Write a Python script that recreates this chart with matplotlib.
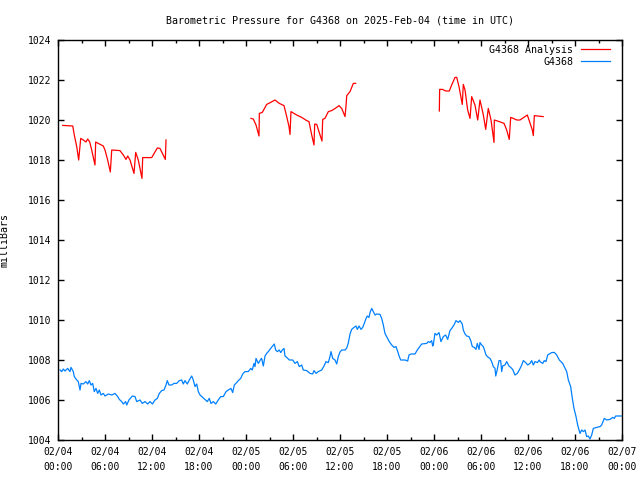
import math
import matplotlib
matplotlib.use("Agg")
from matplotlib import pyplot

NAN = float("nan")

# hours since 2025-02-04 00:00 UTC
analysis_hours = [
    0.6, 1.88, 2.08, 2.39, 2.64, 2.9, 3.23, 3.57, 3.79, 4.05, 4.3, 4.72, 4.81, 5.14,
    5.78, 6.0, 6.34, 6.68, 6.86, 7.91, 8.34, 8.68, 8.9, 9.19, 9.7, 9.92, 10.25, 10.72,
    10.81, 11.96, 12.68, 13.02, 13.7, 13.79,
    19.0,
    24.64, 24.93, 25.28, 25.66, 25.7, 26.08, 26.64, 27.15, 27.7, 28.25, 28.85, 29.2,
    29.49, 29.62, 29.74, 30.47, 31.11, 31.75, 32.04, 32.39, 32.68, 32.77, 33.03, 33.45,
    33.7, 33.79, 34.08, 34.51, 34.94, 35.58, 35.87, 36.22, 36.64, 36.77, 36.86, 37.28,
    37.7, 38.0,
    43.0,
    48.68, 48.72, 49.09, 49.49, 49.95, 50.26, 50.68, 50.9, 51.19, 51.61, 51.74, 51.96,
    52.3, 52.6, 52.81, 53.23, 53.58, 53.87, 54.3, 54.6, 54.93, 55.28, 55.66, 55.7,
    56.34, 56.94, 57.28, 57.61, 57.79, 58.13, 58.55, 58.98, 59.91, 60.13, 60.55, 60.68,
    60.81, 61.19, 61.94,
]
analysis_mb = [
    1019.73, 1019.7, 1019.25, 1018.67, 1018.0, 1019.08, 1019.0, 1018.9, 1019.05, 1018.9,
    1018.5, 1017.75, 1018.9, 1018.83, 1018.7, 1018.5, 1018.0, 1017.4, 1018.5, 1018.47,
    1018.25, 1018.03, 1018.2, 1018.0, 1017.33, 1018.38, 1018.0, 1017.08, 1018.12,
    1018.12, 1018.6, 1018.58, 1018.03, 1019.0,
    NAN,
    1020.08, 1020.05, 1019.75, 1019.2, 1020.33, 1020.38, 1020.78, 1020.88, 1021.0,
    1020.83, 1020.72, 1020.17, 1019.67, 1019.28, 1020.42, 1020.25, 1020.13, 1019.97,
    1019.92, 1019.25, 1018.75, 1019.8, 1019.78, 1019.25, 1018.95, 1020.03, 1020.08,
    1020.42, 1020.47, 1020.63, 1020.72, 1020.58, 1020.17, 1020.72, 1021.22, 1021.42,
    1021.83, 1021.83,
    NAN,
    1020.45, 1021.53, 1021.53, 1021.45, 1021.45, 1021.75, 1022.13, 1022.13, 1021.67,
    1020.78, 1021.78, 1021.5, 1020.5, 1020.08, 1021.17, 1020.75, 1020.0, 1021.0,
    1020.25, 1019.53, 1020.58, 1020.0, 1018.88, 1020.0, 1019.92, 1019.83, 1019.5,
    1019.03, 1020.13, 1020.08, 1020.0, 1020.0, 1020.25, 1020.0, 1019.5, 1019.22,
    1020.22, 1020.2, 1020.17,
]

station_hours = [
    0.26, 0.47, 0.68, 0.89, 1.24, 1.53, 1.66, 1.95, 2.08, 2.39, 2.59, 2.81, 2.94, 3.23,
    3.57, 3.79, 4.0, 4.21, 4.43, 4.63, 4.85, 5.07, 5.27, 5.49, 5.78, 6.0, 6.42, 6.86,
    7.28, 7.62, 7.83, 8.13, 8.34, 8.64, 8.77, 9.06, 9.49, 9.83, 10.05, 10.47, 10.76,
    11.11, 11.45, 11.74, 12.06, 12.38, 12.68, 12.93, 13.24, 13.53, 13.79, 13.95, 14.17,
    14.51, 14.81, 15.15, 15.49, 15.79, 16.0, 16.21, 16.51, 16.76, 17.07, 17.27, 17.49,
    17.71, 17.91, 18.13, 18.47, 18.77, 19.06, 19.31, 19.53, 19.83, 20.13, 20.46, 20.77,
    21.1, 21.45, 21.74, 22.08, 22.3, 22.51, 22.81, 23.02, 23.32, 23.58, 23.87, 24.29,
    24.6, 24.8, 25.02, 25.15, 25.28, 25.57, 25.88, 26.0, 26.21, 26.43, 26.64, 26.85,
    27.15, 27.41, 27.61, 27.79, 28.0, 28.25, 28.43, 28.64, 28.85, 28.98, 29.2, 29.53,
    29.96, 30.26, 30.55, 30.8, 31.11, 31.31, 31.75, 32.17, 32.51, 32.68, 32.94, 33.23,
    33.66, 33.96, 34.21, 34.51, 34.72, 34.85, 35.07, 35.36, 35.58, 35.78, 36.0, 36.22,
    36.64, 36.86, 37.06, 37.28, 37.49, 37.79, 38.04, 38.21, 38.43, 38.68, 38.9, 39.1,
    39.32, 39.48, 39.7, 39.83, 40.05, 40.25, 40.47, 40.69, 41.11, 41.32, 41.53, 41.74,
    41.96, 42.29, 42.6, 42.89, 43.15, 43.37, 43.57, 43.75, 44.3, 44.64, 44.81, 45.06,
    45.57, 45.87, 46.12, 46.43, 47.07, 47.27, 47.49, 47.7, 47.83, 47.91, 48.12, 48.34,
    48.64, 48.89, 49.19, 49.49, 49.75, 50.04, 50.26, 50.55, 50.81, 51.1, 51.32, 51.61,
    51.74, 51.96, 52.17, 52.47, 52.69, 52.89, 53.15, 53.36, 53.53, 53.75, 53.87, 54.09,
    54.29, 54.42, 54.64, 54.93, 55.15, 55.36, 55.57, 55.79, 55.88, 56.08, 56.3, 56.51,
    56.64, 56.77, 57.06, 57.28, 57.57, 57.79, 58.04, 58.34, 58.63, 58.89, 59.2, 59.4,
    59.71, 59.96, 60.26, 60.47, 60.68, 60.89, 61.19, 61.44, 61.53, 61.88, 62.08, 62.3,
    62.51, 63.02, 63.36, 63.66, 64.0, 64.43, 64.63, 64.94, 65.15, 65.45, 65.66, 65.87,
    66.13, 66.34, 66.64, 66.85, 67.06, 67.28, 67.49, 67.7, 67.91, 68.13, 68.34, 68.77,
    69.19, 69.4, 69.74, 70.04, 70.47, 70.81, 71.02, 71.19, 71.74, 72.0,
]
station_mb = [
    1007.5, 1007.42, 1007.55, 1007.45, 1007.58, 1007.42, 1007.63, 1007.42, 1007.17,
    1007.0, 1006.92, 1006.5, 1006.83, 1006.8, 1006.92, 1006.8, 1006.97, 1006.75,
    1006.83, 1006.42, 1006.58, 1006.33, 1006.5, 1006.25, 1006.33, 1006.2, 1006.3,
    1006.25, 1006.33, 1006.17, 1006.03, 1005.92, 1005.8, 1005.92, 1005.75, 1006.0,
    1006.2, 1006.17, 1005.92, 1006.0, 1005.83, 1005.92, 1005.8, 1005.92, 1005.8, 1006.0,
    1006.08, 1006.33, 1006.47, 1006.5, 1006.75, 1006.97, 1006.75, 1006.75, 1006.83,
    1006.83, 1006.97, 1007.0, 1006.8, 1006.97, 1006.8, 1007.0, 1007.2, 1007.0, 1006.67,
    1006.8, 1006.42, 1006.25, 1006.13, 1006.03, 1005.92, 1006.08, 1005.83, 1005.92,
    1005.8, 1006.0, 1006.17, 1006.17, 1006.42, 1006.5, 1006.58, 1006.37, 1006.75,
    1006.87, 1006.97, 1007.08, 1007.3, 1007.42, 1007.42, 1007.58, 1007.5, 1007.83,
    1007.67, 1008.08, 1007.83, 1008.03, 1008.08, 1007.7, 1008.2, 1008.33, 1008.42,
    1008.58, 1008.7, 1008.8, 1008.5, 1008.42, 1008.5, 1008.37, 1008.5, 1008.58, 1008.2,
    1008.13, 1008.0, 1008.0, 1007.83, 1007.92, 1007.67, 1007.75, 1007.5, 1007.47,
    1007.33, 1007.3, 1007.47, 1007.33, 1007.42, 1007.5, 1007.7, 1007.92, 1007.87,
    1008.17, 1008.42, 1008.08, 1008.0, 1007.8, 1008.17, 1008.4, 1008.5, 1008.5, 1008.6,
    1008.85, 1009.3, 1009.53, 1009.63, 1009.7, 1009.53, 1009.7, 1009.53, 1009.63,
    1009.83, 1010.08, 1010.2, 1010.13, 1010.37, 1010.58, 1010.42, 1010.25, 1010.3,
    1010.28, 1010.08, 1009.75, 1009.33, 1009.17, 1008.92, 1008.75, 1008.63, 1008.67,
    1008.42, 1008.17, 1008.0, 1008.0, 1007.95, 1008.25, 1008.3, 1008.3, 1008.5, 1008.63,
    1008.8, 1008.83, 1008.92, 1008.88, 1008.97, 1008.7, 1008.75, 1009.33, 1009.25,
    1009.37, 1008.92, 1009.17, 1009.25, 1009.03, 1009.47, 1009.58, 1009.75, 1009.97,
    1009.88, 1009.97, 1009.8, 1009.5, 1009.3, 1009.2, 1009.17, 1008.97, 1008.67,
    1008.63, 1008.53, 1008.83, 1008.53, 1008.87, 1008.75, 1008.67, 1008.53, 1008.25,
    1008.13, 1008.08, 1007.92, 1007.67, 1007.58, 1007.2, 1007.53, 1007.97, 1007.97,
    1007.42, 1007.7, 1007.75, 1007.92, 1007.7, 1007.63, 1007.53, 1007.25, 1007.33,
    1007.5, 1007.75, 1007.97, 1007.87, 1007.75, 1007.83, 1007.97, 1007.75, 1007.92,
    1007.87, 1008.0, 1007.92, 1007.83, 1007.97, 1007.92, 1008.25, 1008.37, 1008.38,
    1008.25, 1008.0, 1007.83, 1007.67, 1007.42, 1007.0, 1006.67, 1006.08, 1005.58,
    1005.17, 1004.75, 1004.33, 1004.5, 1004.42, 1004.5, 1004.17, 1004.2, 1004.05,
    1004.25, 1004.58, 1004.63, 1004.67, 1004.75, 1005.08, 1005.0, 1005.03, 1005.13,
    1005.08, 1005.2, 1005.2, 1005.2,
]

x_tick_hours = list(range(0, 73, 6))
x_tick_labels = [
    "02/04\n00:00", "02/04\n06:00", "02/04\n12:00", "02/04\n18:00",
    "02/05\n00:00", "02/05\n06:00", "02/05\n12:00", "02/05\n18:00",
    "02/06\n00:00", "02/06\n06:00", "02/06\n12:00", "02/06\n18:00",
    "02/07\n00:00",
]
y_ticks = list(range(1004, 1025, 2))

MONO = "DejaVu Sans Mono"

fig = pyplot.figure(figsize=(6.4, 4.8), dpi=100)
ax = fig.add_axes([58/640, 40/480, 564/640, 400/480])

ax.plot(analysis_hours, analysis_mb, color="#ff0000", lw=0.9, label="G4368 Analysis")
ax.plot(station_hours, station_mb, color="#0080ff", lw=0.9, label="G4368")

ax.set_xlim(0, 72)
ax.set_ylim(1004, 1024)
ax.set_xticks(x_tick_hours)
ax.set_xticklabels(x_tick_labels, family=MONO, fontsize=7.0, linespacing=1.6)
ax.set_xticks(range(3, 72, 6), minor=True)
ax.set_yticks(y_ticks)
ax.set_yticklabels([str(v) for v in y_ticks], family=MONO, fontsize=7.0)

ax.tick_params(which="both", direction="in", top=True, right=True, width=1.0)
ax.tick_params(which="major", length=4.5, pad=5)
ax.tick_params(which="minor", length=2.5)
for s in ax.spines.values():
    s.set_linewidth(1.0)

ax.set_title("Barometric Pressure for G4368 on 2025-Feb-04 (time in UTC)",
             family=MONO, fontsize=7.2, pad=12)
ax.set_ylabel("milliBars", family=MONO, fontsize=7.2)
ax.yaxis.set_label_coords(-48/564, 0.5)

leg = ax.legend(loc="upper right", bbox_to_anchor=(1 - 7/564, 1), frameon=False,
                markerfirst=False, prop={"family": MONO, "size": 7.2},
                handlelength=2.9, borderaxespad=0.1, labelspacing=0.2,
                handletextpad=0.8)

fig.savefig("out.png", dpi=100)
